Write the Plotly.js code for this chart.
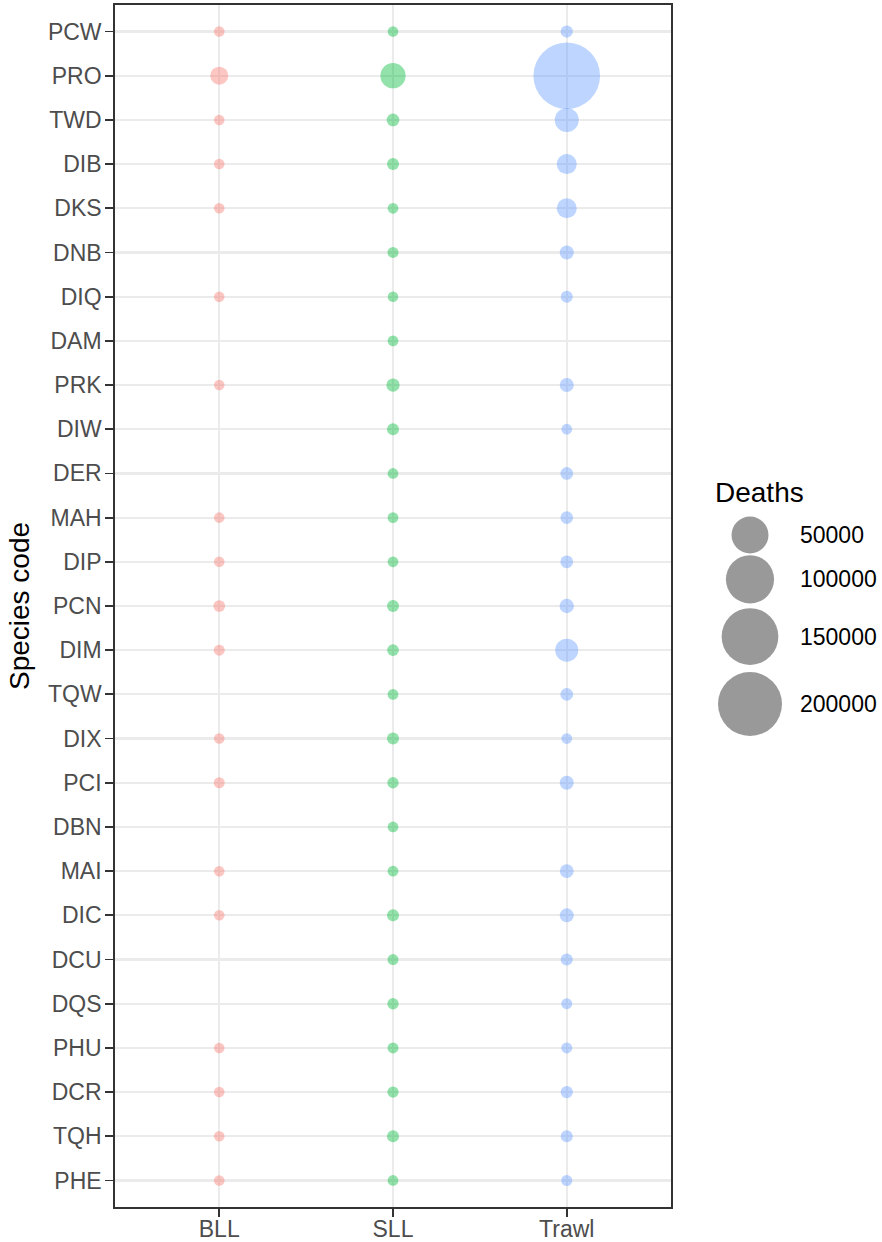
<!DOCTYPE html>
<html>
<head>
<meta charset="utf-8">
<script src="https://cdn.plot.ly/plotly-3.0.1.min.js"></script>
<style>html,body{margin:0;padding:0;background:#fff;}#chart{width:882px;height:1242px;}</style>
</head>
<body>
<div id="chart"></div>
<script>
// ---- data ----
const species = ["PCW","PRO","TWD","DIB","DKS","DNB","DIQ","DAM","PRK","DIW","DER","MAH","DIP","PCN","DIM","TQW","DIX","PCI","DBN","MAI","DIC","DCU","DQS","PHU","DCR","TQH","PHE"];
const fisheries = ["BLL","SLL","Trawl"];
const bllDeaths   = [20,4400,20,20,20,null,20,null,20,null,null,20,20,200,70,null,20,70,null,20,20,null,null,20,20,20,20];
const sllDeaths   = [20,16000,500,280,40,70,20,40,750,280,40,40,40,280,200,40,280,120,40,40,280,70,120,70,120,280,40];
const trawlDeaths = [350,220000,13500,6900,6900,1100,280,null,1100,40,500,500,500,1300,11600,500,40,1100,null,950,1100,280,70,70,360,280,70];
const legendBreaks = [50000,100000,150000,200000];
const legendTitle = "Deaths";
const yTitle = "Species code";

// ---- style ----
const colors = {BLL:"#F8766D", SLL:"#00BA38", Trawl:"#619CFF"};
const FONT = "Liberation Sans, Arial, Helvetica, sans-serif";
const TICKSIZE = 23;
const sizeOf = v => 10 + 0.1207 * Math.sqrt(v);   // sqrt (area) size scale, px diameter

const W = 882, H = 1242;
const margin = {l:115, r:0, t:5, b:35};
const plotW = W - margin.l - margin.r;   // 767
const plotH = H - margin.t - margin.b;   // 1202
const panelW = 556;

const series = [bllDeaths, sllDeaths, trawlDeaths];
const traces = [];
fisheries.forEach((f, i) => {
  const xs = [], ys = [], ss = [];
  series[i].forEach((v, j) => {
    if (v === null) return;
    xs.push(f); ys.push(species[j]); ss.push(sizeOf(v));
  });
  traces.push({
    type:"scatter", mode:"markers", x:xs, y:ys, xaxis:"x", yaxis:"y",
    marker:{color:colors[f], opacity:0.42, size:ss, sizemode:"diameter", line:{width:0}},
    showlegend:false, hoverinfo:"skip"
  });
});

// ---- size legend (drawn on a hidden pixel-scaled axis) ----
const keyX = 79;
const keyH = d => 1.3 * d - 11;
const legY = [];
let cur = 530;
legendBreaks.forEach((b, i) => {
  if (i > 0) cur += keyH(sizeOf(legendBreaks[i-1]))/2 + keyH(sizeOf(b))/2;
  legY.push(cur);
});
traces.push({
  type:"scatter", mode:"markers", x:legendBreaks.map(()=>keyX), y:legY, xaxis:"x2", yaxis:"y2",
  marker:{color:"#999999", opacity:1, size:legendBreaks.map(sizeOf), sizemode:"diameter", line:{width:0}},
  showlegend:false, hoverinfo:"skip", cliponaxis:false
});
const annotations = legendBreaks.map((b, i) => ({
  xref:"x2", yref:"y2", x:127, y:legY[i], text:String(b), showarrow:false,
  xanchor:"left", yanchor:"middle", font:{family:FONT, size:TICKSIZE, color:"#000"}
}));
annotations.push({
  xref:"x2", yref:"y2", x:42, y:487, text:legendTitle, showarrow:false,
  xanchor:"left", yanchor:"middle", font:{family:FONT, size:28, color:"#000"}
});

const axisCommon = {
  type:"category", showgrid:true, gridcolor:"#EBEBEB", gridwidth:2.2,
  ticks:"outside", ticklen:8, tickwidth:1.8, tickcolor:"#333333",
  showline:true, linecolor:"#333333", linewidth:1.8, mirror:true,
  zeroline:false, tickfont:{family:FONT, size:TICKSIZE, color:"#4D4D4D"}, fixedrange:true
};

const layout = {
  width:W, height:H, margin:margin, paper_bgcolor:"#fff", plot_bgcolor:"rgba(0,0,0,0)",
  font:{family:FONT}, showlegend:false, hovermode:false,
  xaxis:Object.assign({}, axisCommon, {
    domain:[0, panelW/plotW], anchor:"y",
    categoryorder:"array", categoryarray:fisheries, range:[-0.6, 2.6],
    ticklabelstandoff:-7
  }),
  yaxis:Object.assign({}, axisCommon, {
    domain:[0,1], anchor:"x",
    categoryorder:"array", categoryarray:species, range:[species.length-0.4, -0.6],
    ticklabelstandoff:-1,
    title:{text:yTitle, font:{family:FONT, size:28, color:"#000"}, standoff:10}
  }),
  xaxis2:{domain:[panelW/plotW, 1], anchor:"y2", range:[0, W - margin.l - panelW], visible:false, fixedrange:true},
  yaxis2:{domain:[0,1], anchor:"x2", range:[plotH, 0], visible:false, fixedrange:true},
  annotations:annotations
};

Plotly.newPlot("chart", traces, layout, {staticPlot:true, displayModeBar:false});
</script>
</body>
</html>
